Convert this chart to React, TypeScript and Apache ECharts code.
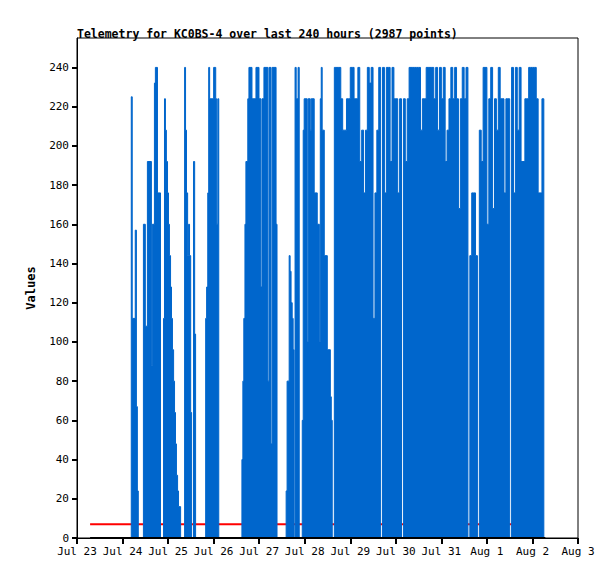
import { useEffect, useRef } from "react";
import * as echarts from "echarts";

// hours since Jul 23 00:00
const dayLabels = ["Jul 23", "Jul 24", "Jul 25", "Jul 26", "Jul 27", "Jul 28", "Jul 29", "Jul 30", "Jul 31", "Aug 1", "Aug 2", "Aug 3"];

const sparsePoints: [number, number][] = [
  [6.9, 0], [28.6, 225], [29.1, 112], [30.7, 157], [31.3, 67], [31.8, 24], [32.3, 0],
  [35.0, 160], [36.0, 108], [37.1, 192], [39.2, 88], [39.7, 160], [40.8, 232], [41.3, 240], [42.4, 176], [44.0, 0],
  [45.6, 112], [46.1, 224], [46.6, 208], [47.1, 192], [47.7, 176], [48.2, 160], [48.7, 144], [49.3, 128], [49.8, 112],
  [50.3, 96], [50.9, 80], [51.4, 64], [51.9, 48], [52.4, 32], [53.0, 24], [53.5, 16], [54.6, 0],
  [56.7, 240], [57.2, 208], [57.7, 176], [58.3, 144], [58.8, 160], [59.3, 144], [59.9, 64], [60.4, 0], [61.4, 192], [62.0, 104], [62.5, 0],
  [67.8, 112], [68.3, 128], [68.9, 176], [69.4, 240], [69.9, 224], [72.0, 240], [73.1, 224], [73.6, 160], [74.2, 224], [74.7, 0],
  [86.9, 40], [87.4, 80], [87.9, 112], [88.5, 160], [89.0, 192], [90.0, 224], [90.6, 240], [92.2, 224], [94.3, 240], [95.9, 224],
  [96.9, 128], [97.5, 224], [98.5, 240], [100.6, 80], [101.2, 240], [102.2, 48], [102.8, 240], [104.9, 160], [105.4, 0],
  [110.2, 24], [110.7, 80], [111.8, 144], [112.3, 136], [112.8, 120], [113.4, 112], [113.9, 96], [114.4, 0], [114.9, 240], [115.5, 224], [116.5, 240], [117.1, 0],
  [118.7, 60], [119.2, 208], [119.7, 224], [121.3, 100], [121.8, 224], [122.9, 208], [123.4, 224], [125.0, 176], [126.6, 160], [127.7, 100],
  [128.2, 224], [128.7, 240], [129.2, 208], [130.3, 144], [131.9, 96], [133.5, 72], [134.0, 60], [134.5, 0], [135.6, 240],
];

// hourly samples from hour 136 onward
const denseStart = 136;
const denseValues = [
  240, 240, 240, 224, 208, 208, 224, 224, 240, 240, 224, 224, 240, 192, 208, 176, 208, 240, 232, 240,
  112, 176, 208, 240, 0, 240, 176, 240, 240, 192, 240, 224, 224, 176, 224, 0, 224, 192, 224, 240,
  240, 240, 240, 240, 240, 208, 224, 224, 240, 240, 240, 240, 224, 240, 208, 240, 224, 240, 192, 208,
  224, 240, 224, 240, 224, 168, 224, 240, 224, 240, 0, 144, 176, 176, 144, 0, 208, 192, 240, 240,
  160, 224, 240, 168, 224, 208, 240, 224, 224, 176, 224, 224, 0, 240, 176, 240, 208, 240, 192, 192,
  224, 224, 240, 240, 240, 240, 224, 176, 176, 224, 0,
];

const refLine: [number, number][] = [[6.9, 7], [229.5, 7]];
const zeroLine: [number, number][] = [[6.9, 0], [246.8, 0]];

const font = "DejaVu Sans Mono";

export default function App() {
  const ref = useRef<HTMLDivElement>(null);

  useEffect(() => {
    if (!ref.current) return;
    const chart = echarts.init(ref.current, undefined, { renderer: "svg" });
    const telemetry: [number, number][] = [
      ...sparsePoints,
      ...denseValues.map((v, i) => [denseStart + i, v] as [number, number]),
    ];
    chart.setOption({
      animation: false,
      title: {
        text: "Telemetry for KC0BS-4 over last 240 hours (2987 points)",
        left: 64,
        top: 15,
        textStyle: { fontFamily: font, fontSize: 11.5, fontWeight: "bold", color: "#000" },
      },
      grid: { left: 69, right: 29, top: 30, bottom: 33, show: true, borderColor: "#000", borderWidth: 1 },
      xAxis: {
        type: "value",
        min: 0,
        max: 264,
        interval: 24,
        axisLine: { lineStyle: { color: "#000", width: 1 } },
        axisTick: { inside: false, length: 6, lineStyle: { color: "#000", width: 2 } },
        splitLine: { show: false },
        axisLabel: {
          fontFamily: font,
          fontSize: 11,
          color: "#000",
          margin: 8,
          formatter: (v: number) => dayLabels[Math.round(v / 24)] ?? "",
        },
      },
      yAxis: {
        type: "value",
        min: 0,
        max: 255,
        interval: 20,
        name: "Values",
        nameLocation: "middle",
        nameGap: 40,
        nameTextStyle: { fontFamily: font, fontSize: 12, fontWeight: "bold", color: "#000" },
        axisLine: { show: true, lineStyle: { color: "#000" } },
        axisTick: { length: 5, lineStyle: { color: "#000", width: 2 } },
        splitLine: { show: false },
        axisLabel: { fontFamily: font, fontSize: 11, color: "#000", showMaxLabel: false },
      },
      series: [
        {
          type: "line",
          data: refLine,
          symbol: "none",
          lineStyle: { color: "#ff0000", width: 2 },
          z: 1,
          silent: true,
        },
        {
          type: "line",
          data: telemetry,
          step: "end",
          symbol: "none",
          lineStyle: { color: "#0066cc", width: 1 },
          areaStyle: { color: "#0066cc", opacity: 1 },
          z: 2,
        },
        {
          type: "line",
          data: zeroLine,
          symbol: "none",
          lineStyle: { color: "#000", width: 2 },
          z: 3,
        },
      ],
    });
    return () => chart.dispose();
  }, []);

  return <div ref={ref} style={{ width: 599, height: 563 }} />;
}
